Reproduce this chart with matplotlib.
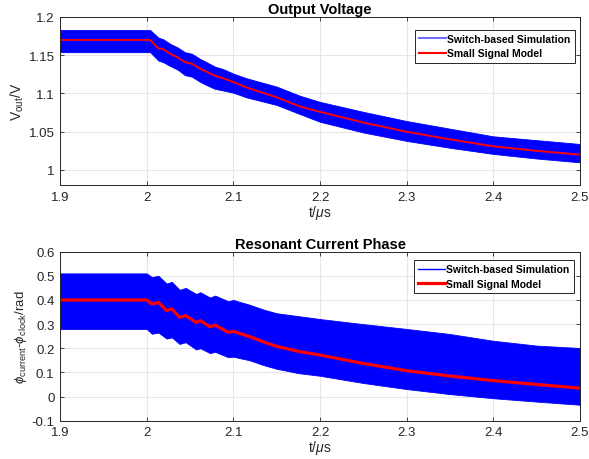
import matplotlib
matplotlib.use("Agg")
import matplotlib.pyplot as plt
from matplotlib.lines import Line2D

plt.rcParams['font.family'] = ['Liberation Sans', 'DejaVu Sans']
plt.rcParams['mathtext.fontset'] = 'custom'
plt.rcParams['mathtext.rm'] = 'Liberation Sans'
plt.rcParams['mathtext.it'] = 'Liberation Sans:italic'

# ---------------- Output voltage data ----------------
t_v = [1.9, 2.004, 2.0135, 2.019, 2.027, 2.036, 2.044, 2.052, 2.062, 2.069,
       2.079, 2.088, 2.1, 2.115, 2.15, 2.177, 2.2, 2.25, 2.3, 2.35, 2.4, 2.45, 2.5]
v_model = [1.170, 1.170, 1.159, 1.158, 1.152, 1.147, 1.141, 1.139, 1.132, 1.1285,
           1.123, 1.120, 1.115, 1.108, 1.095, 1.083, 1.076, 1.062, 1.050, 1.040,
           1.031, 1.025, 1.020]
v_sim_upper = [1.183, 1.183, 1.173, 1.171, 1.165, 1.160, 1.154, 1.152, 1.145, 1.141,
               1.135, 1.132, 1.126, 1.120, 1.109, 1.097, 1.089, 1.076, 1.064, 1.054,
               1.044, 1.039, 1.034]
v_sim_lower = [1.154, 1.154, 1.143, 1.141, 1.136, 1.131, 1.124, 1.122, 1.115, 1.111,
               1.106, 1.104, 1.101, 1.095, 1.085, 1.073, 1.063, 1.049, 1.038, 1.029,
               1.021, 1.015, 1.010]

# ---------------- Phase data ----------------
t_p = [1.9, 2.0, 2.006, 2.0135, 2.023, 2.029, 2.038, 2.045, 2.057, 2.062, 2.073,
       2.079, 2.094, 2.1, 2.119, 2.135, 2.15, 2.175, 2.2, 2.25, 2.3, 2.35, 2.4,
       2.45, 2.5]
p_model = [0.40, 0.40, 0.383, 0.39, 0.356, 0.363, 0.328, 0.335, 0.307, 0.314, 0.289,
           0.296, 0.266, 0.270, 0.248, 0.226, 0.208, 0.187, 0.172, 0.137, 0.107,
           0.085, 0.066, 0.050, 0.035]
p_sim_upper = [0.51, 0.51, 0.495, 0.50, 0.468, 0.475, 0.442, 0.45, 0.425, 0.432, 0.41,
               0.418, 0.395, 0.40, 0.38, 0.36, 0.345, 0.333, 0.321, 0.30, 0.28,
               0.259, 0.231, 0.211, 0.201]
p_sim_lower = [0.28, 0.28, 0.26, 0.265, 0.24, 0.245, 0.218, 0.225, 0.195, 0.20, 0.18,
               0.185, 0.163, 0.165, 0.15, 0.13, 0.115, 0.097, 0.086, 0.056, 0.031,
               0.01, -0.007, -0.021, -0.034]

x_ticks = [1.9, 2.0, 2.1, 2.2, 2.3, 2.4, 2.5]
x_ticklabels = ['1.9', '2', '2.1', '2.2', '2.3', '2.4', '2.5']
v_ticks = [1.0, 1.05, 1.1, 1.15, 1.2]
v_ticklabels = ['1', '1.05', '1.1', '1.15', '1.2']
p_ticks = [-0.1, 0, 0.1, 0.2, 0.3, 0.4, 0.5, 0.6]
p_ticklabels = ['-0.1', '0', '0.1', '0.2', '0.3', '0.4', '0.5', '0.6']

TXT = '#262626'
BLUE = '#0000ff'
RED = '#ff0000'

fig = plt.figure(figsize=(5.89, 4.60), dpi=100)
ax1 = fig.add_axes([0.1019, 0.5957, 0.8828, 0.3652])
ax2 = fig.add_axes([0.1019, 0.0833, 0.8828, 0.3674])


def style(ax):
    ax.set_xlim(1.9, 2.5)
    ax.set_xticks(x_ticks)
    ax.set_xticklabels(x_ticklabels)
    ax.grid(True, color='#e6e6e6', linewidth=0.8)
    ax.set_axisbelow(True)
    for s in ax.spines.values():
        s.set_color(TXT)
        s.set_linewidth(0.7)
    ax.tick_params(direction='in', length=3, width=0.6, colors=TXT, labelsize=9.5,
                   top=True, right=True, pad=4)
    ax.xaxis.label.set_color(TXT)
    ax.yaxis.label.set_color(TXT)


# top panel
ax1.fill_between(t_v, v_sim_lower, v_sim_upper, color=BLUE, linewidth=0.6,
                 edgecolor=BLUE)
ax1.plot(t_v, v_model, color=RED, linewidth=1.4)
ax1.set_ylim(0.9804, 1.2)
ax1.set_yticks(v_ticks)
ax1.set_yticklabels(v_ticklabels)
style(ax1)
ax1.set_title('Output Voltage', fontsize=10.5, fontweight='bold', color='black', pad=3)
ax1.set_xlabel(r't/$\mathit{\mu}$s', fontsize=10, labelpad=0)
ax1.set_ylabel(r'V$_{\mathrm{out}}$/V', fontsize=10, labelpad=2)
h1 = [Line2D([], [], color='#6e6eff', linewidth=1.5),
      Line2D([], [], color=RED, linewidth=1.5)]
leg1 = ax1.legend(h1, ['Switch-based Simulation', 'Small Signal Model'],
                  loc='upper right', bbox_to_anchor=(0.99, 0.925),
                  prop={'weight': 'bold', 'size': 7.5}, fancybox=False,
                  edgecolor=TXT, framealpha=1, handlelength=2.6,
                  handletextpad=0.15, borderpad=0.4, labelspacing=0.45,
                  borderaxespad=0)
leg1.get_frame().set_linewidth(0.7)

# bottom panel
ax2.fill_between(t_p, p_sim_lower, p_sim_upper, color=BLUE, linewidth=0.6,
                 edgecolor=BLUE)
ax2.plot(t_p, p_model, color=RED, linewidth=2.3)
ax2.set_ylim(-0.1, 0.6)
ax2.set_yticks(p_ticks)
ax2.set_yticklabels(p_ticklabels)
style(ax2)
ax2.set_title('Resonant Current Phase', fontsize=10.5, fontweight='bold', color='black', pad=3)
ax2.set_xlabel(r't/$\mathit{\mu}$s', fontsize=10, labelpad=0)
ax2.set_ylabel(r'$\mathit{\phi}_{\mathrm{current}}$-$\mathit{\phi}_{\mathrm{clock}}$/rad',
               fontsize=9.5, labelpad=2)
h2 = [Line2D([], [], color=BLUE, linewidth=1.0),
      Line2D([], [], color=RED, linewidth=2.3)]
leg2 = ax2.legend(h2, ['Switch-based Simulation', 'Small Signal Model'],
                  loc='upper right', bbox_to_anchor=(0.988, 0.95),
                  prop={'weight': 'bold', 'size': 7.5}, fancybox=False,
                  edgecolor=TXT, framealpha=1, handlelength=2.6,
                  handletextpad=0.15, borderpad=0.4, labelspacing=0.45,
                  borderaxespad=0)
leg2.get_frame().set_linewidth(0.7)

fig.savefig('out.png', dpi=100)
